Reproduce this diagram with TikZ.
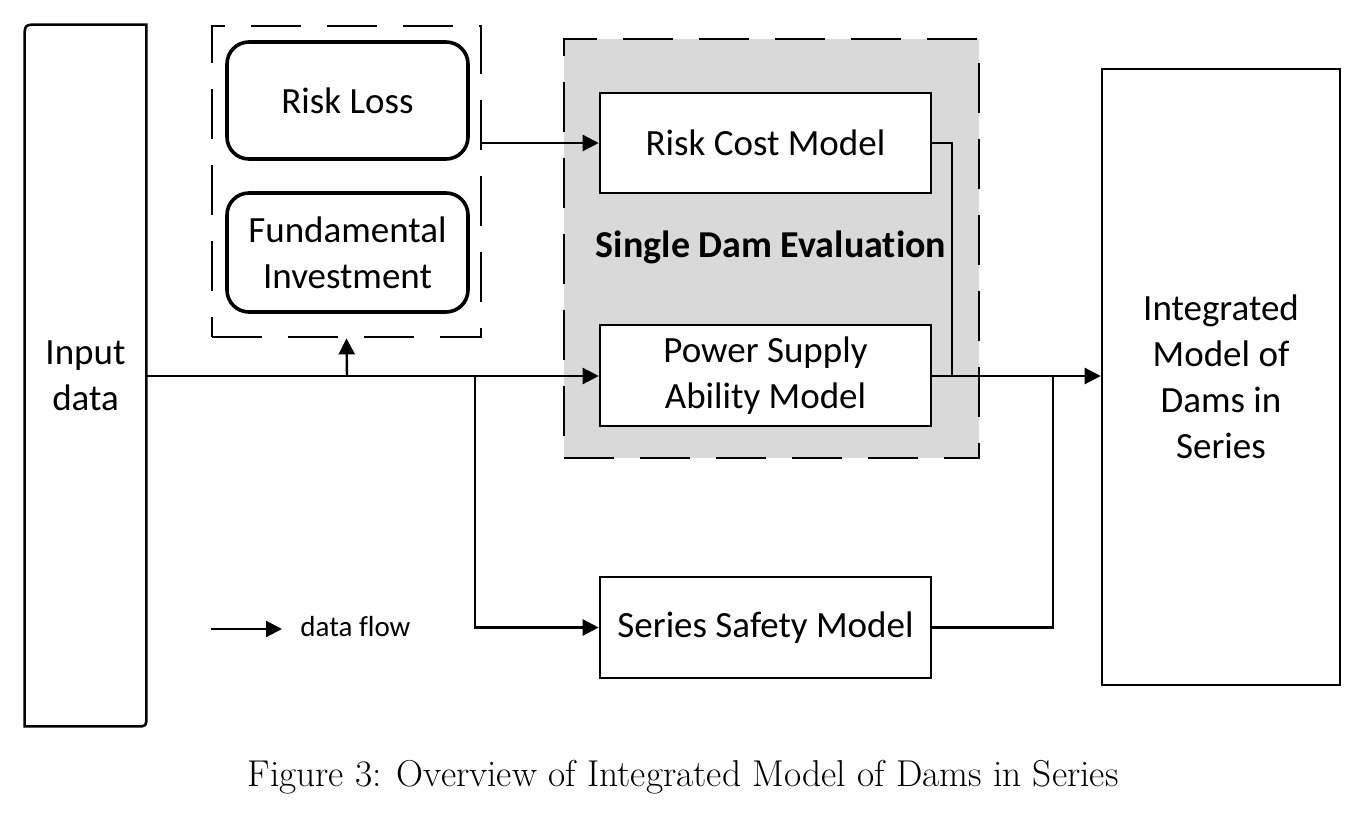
\documentclass[tikz,border=0pt]{standalone}
\usepackage{fontspec}
\setsansfont{Carlito}[Ligatures=NoCommon]
\usetikzlibrary{arrows.meta,calc}
\definecolor{greyfill}{HTML}{D9D9D9}
\begin{document}
\begin{tikzpicture}[x=0.5pt,y=-0.5pt,
  every node/.style={font=\sffamily\fontsize{18.5}{23}\selectfont, align=center, inner sep=0pt},
  plainbox/.style={draw, line width=1.3pt, fill=white},
  roundbox/.style={draw, line width=1.8pt, rounded corners=11pt, fill=white},
  dashbox/.style={draw, line width=1.4pt, dash pattern=on 25pt off 13pt},
  flow/.style={line width=1.2pt, -{Triangle[length=8pt,width=8pt]}},
  line/.style={line width=1.2pt}]
\useasboundingbox (0,0) rectangle (1372,828);
% grey group
\node[dashbox, fill=greyfill, minimum width=207.5pt, minimum height=209.5pt] (grey) at (771.5,248.5) {};
% dashed group
\node[dashbox, minimum width=134.5pt, minimum height=155.5pt] (box1) at (346.5,181.5) {};
% input data
\node[minimum width=60.5pt, minimum height=350.5pt] (input) at (85.5,375.5) {Input\\data};
\draw[line width=1.3pt] ($(input.north west)+(0,-7pt)$) .. controls (input.north west) .. ($(input.north west)+(7pt,0)$)
  -- (input.north east) -- ($(input.south east)+(0,5pt)$) .. controls (input.south east) .. ($(input.south east)+(-5pt,0)$)
  -- (input.south west) -- cycle;
% boxes
\node[roundbox, minimum width=120.5pt, minimum height=58.5pt] (riskloss) at (347.5,100.5) {Risk Loss};
\node[roundbox, minimum width=120.5pt, minimum height=59.5pt] (fund) at (347.5,252.5) {Fundamental\\Investment};
\node[plainbox, minimum width=165.5pt, minimum height=50pt] (riskcost) at (765.5,143) {Risk Cost Model};
\node[plainbox, minimum width=165.5pt, minimum height=50.5pt] (power) at (765.5,375.5) {Power Supply\\Ability Model};
\node[plainbox, minimum width=165.5pt, minimum height=50.5pt] (series) at (765.5,627.5) {Series Safety Model};
\node[plainbox, minimum width=119pt, minimum height=308pt] (integ) at (1221,377) {Integrated\\Model of\\Dams in\\Series};
\node[font=\sffamily\bfseries\fontsize{19}{23}\selectfont] (sde) at (771,247) {Single Dam Evaluation};
% junctions
\coordinate (j1) at (347,376);
\coordinate (j2) at (475,376);
\coordinate (j3) at (952,376);
\coordinate (j4) at (1053,376);
% connectors
\draw[flow] (input.east |- j1) -- (power.west |- j1);
\draw[flow] (j1) -- (box1.south);
\draw[flow] (j2) |- (series.west);
\draw[flow] (box1.east |- riskcost.west) -- (riskcost.west);
\draw[line] (riskcost.east) -| (j3);
\draw[flow] (power.east |- j1) -- (integ.west |- j1);
\draw[line] (series.east) -| (j4);
% legend
\coordinate (lg) at (211,629);
\node[anchor=west, font=\sffamily\fontsize{14.5}{17}\selectfont] (lgt) at (300,627) {data flow};
\draw[flow] (lg) -- (282,629);
% caption
\node[font=\rmfamily\fontsize{18.7}{22}\selectfont] (cap) at (683,777) {Figure 3: Overview of Integrated Model of Dams in Series};
\end{tikzpicture}
\end{document}
